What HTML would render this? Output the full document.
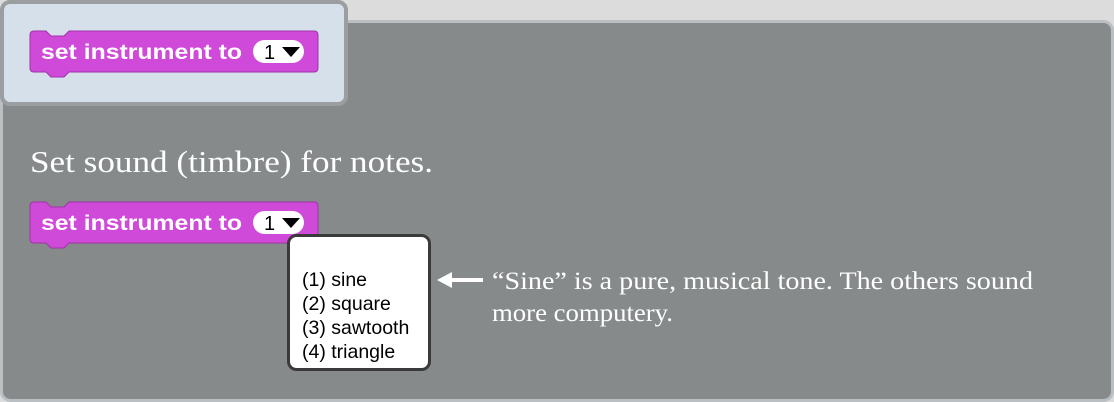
<!DOCTYPE html>
<html><head><meta charset="utf-8"><style>
html,body{margin:0;padding:0;background:#dcdcdc;width:1114px;height:402px;overflow:hidden}
svg{display:block}
</style></head><body>
<svg width="1114" height="402" viewBox="0 0 1114 402" xmlns="http://www.w3.org/2000/svg">
<rect x="0" y="0" width="1114" height="402" fill="#dcdcdc"/>
<rect x="1.5" y="21.5" width="1111" height="379" rx="9" fill="#868a8b" stroke="#b9bfc3" stroke-width="3"/>
<rect x="2" y="2" width="344" height="102" rx="8" fill="#d6e0ea" stroke="#9a9ea0" stroke-width="4"/>
<defs>
<g id="blk">
<path d="M0,4 Q0,0 4,0 L16,0 L21,5 L34,5 L39,0 L284,0 Q288,0 288,4 L288,37 Q288,41 284,41 L39,41 L34,46 L21,46 L16,41 L4,41 Q0,41 0,37 Z" fill="#cf4ad9" stroke="#a032aa" stroke-width="1"/>
<text x="11" y="28" font-family="Liberation Sans, sans-serif" font-weight="bold" font-size="21" fill="#fff" textLength="201" lengthAdjust="spacingAndGlyphs">set instrument to</text>
<rect x="223" y="9" width="51" height="23" rx="11.5" fill="#fff"/>
<text x="234" y="28" font-family="Liberation Sans, sans-serif" font-size="20" fill="#000">1</text>
<path d="M252,16 L270,16 L261,26 Z" fill="#000"/>
</g>
</defs>
<use href="#blk" x="30" y="31"/>
<text x="30" y="172" font-family="Liberation Serif, serif" font-size="31" fill="#fff" textLength="403" lengthAdjust="spacingAndGlyphs">Set sound (timbre) for notes.</text>
<use href="#blk" x="30" y="202"/>
<rect x="288.5" y="235.5" width="141" height="134" rx="8" fill="#fff" stroke="#3a3a3a" stroke-width="3"/>
<g font-family="Liberation Sans, sans-serif" font-size="19.5" fill="#000">
<text x="302" y="286">(1) sine</text>
<text x="302" y="310">(2) square</text>
<text x="302" y="334">(3) sawtooth</text>
<text x="302" y="358">(4) triangle</text>
</g>
<rect x="448" y="278" width="35" height="4" fill="#fff"/>
<path d="M437,280 L452,272 L452,288 Z" fill="#fff"/>
<g font-family="Liberation Serif, serif" font-size="25" fill="#fff">
<text x="492" y="289" textLength="541" lengthAdjust="spacingAndGlyphs">“Sine” is a pure, musical tone. The others sound</text>
<text x="492" y="321" textLength="181" lengthAdjust="spacingAndGlyphs">more computery.</text>
</g>
</svg>
</body></html>
